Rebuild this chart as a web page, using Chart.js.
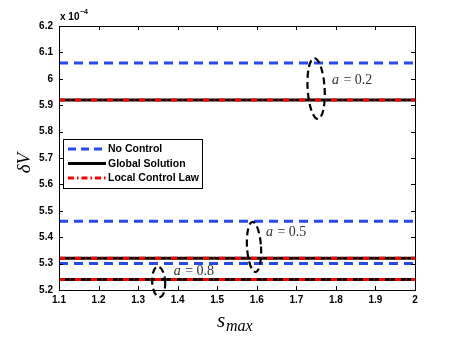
<!DOCTYPE html>
<html><head><meta charset="utf-8">
<script src="https://cdn.jsdelivr.net/npm/chart.js@4"></script>
<style>html,body{margin:0;padding:0;background:#fff}#wrap{width:457px;height:339px}</style>
</head><body><div id="wrap"><canvas id="c" width="457" height="339"></canvas></div>
<script>
const sMax = [1.1, 1.2, 1.3, 1.4, 1.5, 1.6, 1.7, 1.8, 1.9, 2.0];
// values in units of 1e-4
const noControl02 = [6.06, 6.06, 6.06, 6.06, 6.06, 6.06, 6.06, 6.06, 6.06, 6.06];
const global02    = [5.92, 5.92, 5.92, 5.92, 5.92, 5.92, 5.92, 5.92, 5.92, 5.92];
const local02     = [5.92, 5.92, 5.92, 5.92, 5.92, 5.92, 5.92, 5.92, 5.92, 5.92];
const noControl05 = [5.46, 5.46, 5.46, 5.46, 5.46, 5.46, 5.46, 5.46, 5.46, 5.46];
const global05    = [5.32, 5.32, 5.32, 5.32, 5.32, 5.32, 5.32, 5.32, 5.32, 5.32];
const local05     = [5.32, 5.32, 5.32, 5.32, 5.32, 5.32, 5.32, 5.32, 5.32, 5.32];
const noControl08 = [5.30, 5.30, 5.30, 5.30, 5.30, 5.30, 5.30, 5.30, 5.30, 5.30];
const global08    = [5.24, 5.24, 5.24, 5.24, 5.24, 5.24, 5.24, 5.24, 5.24, 5.24];
const local08     = [5.24, 5.24, 5.24, 5.24, 5.24, 5.24, 5.24, 5.24, 5.24, 5.24];
const xTicks = [1.1, 1.2, 1.3, 1.4, 1.5, 1.6, 1.7, 1.8, 1.9, 2];
const yTicks = [5.2, 5.3, 5.4, 5.5, 5.6, 5.7, 5.8, 5.9, 6, 6.1, 6.2];
const seriesNames = ['No Control', 'Global Solution', 'Local Control Law'];
// annotation ellipses: center x, center y, label text, label x, label y
const annotLabels = ['a = 0.2', 'a = 0.5', 'a = 0.8'];
const annotCx = [1.75, 1.593, 1.352];
const annotCy = [5.963, 5.363, 5.231];
const annotRy = [0.115, 0.095, 0.058];
const annotLabelX = [1.79, 1.623, 1.39];
const annotLabelY = [5.995, 5.42, 5.27];

const BLUE = 'rgb(38,72,245)', BLACK = '#000', RED = 'rgb(255,0,0)';
function pts(arr){ return sMax.map((x,i)=>({x:x,y:arr[i]})); }
function ds(label, arr, kind){
  const base = {label:label, data:pts(arr), pointRadius:0, fill:false, tension:0, borderCapStyle:'butt'};
  if(kind==='nc') return Object.assign(base,{borderColor:BLUE,borderWidth:3,borderDash:[9,6],order:1});
  if(kind==='g') return Object.assign(base,{borderColor:BLACK,borderWidth:3,order:3});
  return Object.assign(base,{borderColor:RED,borderWidth:3,borderDash:[6,4.5,1,4.5],order:2});
}
const datasets = [
  ds('No Control', noControl02,'nc'), ds('Global Solution', global02,'g'), ds('Local Control Law', local02,'l'),
  ds('No Control', noControl05,'nc'), ds('Global Solution', global05,'g'), ds('Local Control Law', local05,'l'),
  ds('No Control', noControl08,'nc'), ds('Global Solution', global08,'g'), ds('Local Control Law', local08,'l')
];

const deco = {
  id:'deco',
  afterDatasetsDraw(chart){
    const ctx = chart.ctx, xs = chart.scales.x, ys = chart.scales.y, a = chart.chartArea;
    ctx.save();
    // ellipses
    ctx.strokeStyle = '#000'; ctx.lineWidth = 2.2; ctx.setLineDash([7,4]);
    const rxPx = [8.5, 7, 6.5];
    for(let i=0;i<annotLabels.length;i++){
      const cx = xs.getPixelForValue(annotCx[i]), cy = ys.getPixelForValue(annotCy[i]);
      const ry = ys.getPixelForValue(annotCy[i]-annotRy[i]) - cy;
      ctx.beginPath(); ctx.ellipse(cx, cy, rxPx[i], Math.abs(ry), -0.06, 0, Math.PI*2); ctx.stroke();
    }
    ctx.setLineDash([]);
    // labels
    ctx.fillStyle = '#333'; ctx.textBaseline = 'middle';
    for(let i=0;i<annotLabels.length;i++){
      let x = xs.getPixelForValue(annotLabelX[i]), y = ys.getPixelForValue(annotLabelY[i]);
      const parts = annotLabels[i].split(' = ');
      ctx.font = 'italic 14px "Liberation Serif"'; ctx.textAlign='left';
      ctx.fillText(parts[0], x, y); x += ctx.measureText(parts[0]).width;
      ctx.font = '14px "Liberation Serif"';
      ctx.fillText(' = ' + parts[1], x+1, y);
    }
    // box
    ctx.strokeStyle = '#000'; ctx.lineWidth = 1;
    ctx.strokeRect(Math.round(a.left)+0.5, Math.round(a.top)+0.5, Math.round(a.right-a.left), Math.round(a.bottom-a.top));
    // inward ticks
    ctx.beginPath();
    xTicks.forEach(v=>{ const x = Math.round(xs.getPixelForValue(v))+0.5;
      ctx.moveTo(x,a.bottom); ctx.lineTo(x,a.bottom-4); ctx.moveTo(x,a.top); ctx.lineTo(x,a.top+4); });
    yTicks.forEach(v=>{ const y = Math.round(ys.getPixelForValue(v))+0.5;
      ctx.moveTo(a.left,y); ctx.lineTo(a.left+4,y); ctx.moveTo(a.right,y); ctx.lineTo(a.right-4,y); });
    ctx.stroke();
    // legend
    const lx = 63.5, ly = 139.5, lw = 139, lh = 49;
    ctx.fillStyle = '#fff'; ctx.fillRect(lx, ly, lw, lh);
    ctx.strokeStyle = '#000'; ctx.lineWidth = 1; ctx.strokeRect(lx, ly, lw, lh);
    const rows = [149, 163.5, 178];
    ctx.font = 'bold 10.5px "Liberation Sans"'; ctx.textAlign='left'; ctx.textBaseline='middle'; ctx.fillStyle='#000';
    ctx.lineCap = 'butt';
    ctx.strokeStyle = BLUE; ctx.lineWidth = 3; ctx.setLineDash([8,5]);
    ctx.beginPath(); ctx.moveTo(68, rows[0]); ctx.lineTo(106, rows[0]); ctx.stroke();
    ctx.setLineDash([]);
    ctx.strokeStyle = BLACK; ctx.beginPath(); ctx.moveTo(68, rows[1]); ctx.lineTo(106, rows[1]); ctx.stroke();
    ctx.strokeStyle = RED; ctx.setLineDash([6,3,1.5,3]);
    ctx.beginPath(); ctx.moveTo(68, rows[2]); ctx.lineTo(106, rows[2]); ctx.stroke();
    ctx.setLineDash([]);
    seriesNames.forEach((n,i)=>ctx.fillText(n, 108, rows[i]+0.5));
    // exponent
    ctx.textBaseline='alphabetic';
    ctx.font = 'bold 10px "Liberation Sans"'; ctx.fillText('x 10', 60, 20);
    ctx.font = 'bold 7px "Liberation Sans"'; ctx.fillText('\u22124', 80, 14);
    // axis titles
    ctx.fillStyle='#000';
    ctx.font = 'italic 21px "Liberation Serif"'; ctx.fillText('s', 217, 327);
    ctx.font = 'italic 16px "Liberation Serif"'; ctx.fillText('max', 226, 331);
    ctx.save(); ctx.translate(30, 163); ctx.rotate(-Math.PI/2);
    ctx.font = 'italic 19px "Liberation Serif"'; ctx.textAlign='center'; ctx.fillText('\u03B4V', 0, 0);
    ctx.restore();
    ctx.restore();
  }
};

new Chart(document.getElementById('c'), {
  type:'line',
  data:{datasets:datasets},
  options:{
    responsive:false, animation:false, devicePixelRatio:1,
    layout:{padding:{left:0,right:42,top:26,bottom:0}},
    plugins:{legend:{display:false},tooltip:{enabled:false}},
    scales:{
      x:{type:'linear', min:1.1, max:2,
        afterFit(s){ s.height = 49; },
        afterBuildTicks(s){ s.ticks = xTicks.map(v=>({value:v})); },
        grid:{display:false, drawTicks:false}, border:{display:false},
        ticks:{color:'#000', padding:4, maxRotation:0, font:{family:'Liberation Sans', size:10, weight:'bold'},
          callback:(v)=> (Math.round(v*10)/10).toString()}},
      y:{type:'linear', min:5.2, max:6.2,
        afterFit(s){ s.width = 59; },
        afterBuildTicks(s){ s.ticks = yTicks.map(v=>({value:v})); },
        grid:{display:false, drawTicks:false}, border:{display:false},
        ticks:{color:'#000', padding:6, font:{family:'Liberation Sans', size:10, weight:'bold'},
          callback:(v)=> (Math.round(v*10)/10).toString()}}
    }
  },
  plugins:[deco]
});
</script></body></html>
